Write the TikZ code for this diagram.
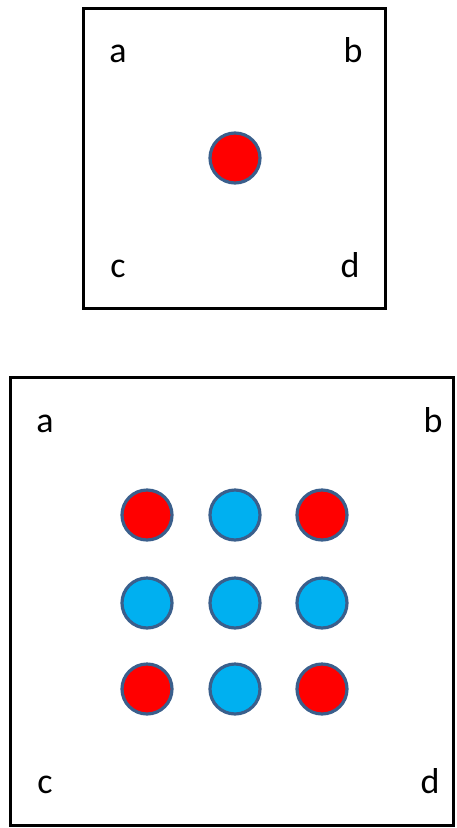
\documentclass[tikz,border=0pt]{standalone}
\usepackage{fontspec}
\setmainfont{Carlito}
\definecolor{dotred}{HTML}{FF0000}
\definecolor{dotblue}{HTML}{00B0F0}
\definecolor{dotedge}{HTML}{3A5F8C}
\tikzset{
  frame/.style={draw=black, line width=3pt},
  lbl/.style={font=\fontsize{36}{40}\selectfont, inner sep=0pt, anchor=base},
  dot/.style={circle, draw=dotedge, line width=3.2pt, minimum size=50pt, inner sep=0pt},
  reddot/.style={dot, fill=dotred},
  bluedot/.style={dot, fill=dotblue}
}
\begin{document}
\begin{tikzpicture}[x=1pt,y=-1pt]
\useasboundingbox (0,0) rectangle (456,828);
% top box
\node[frame, minimum width=302pt, minimum height=300pt, inner sep=0pt] (top) at (234,158) {};
\node[lbl] (ta) at (118,62) {a};
\node[lbl] (tb) at (353,62) {b};
\node[lbl] (tc) at (118,277) {c};
\node[lbl] (td) at (350,277) {d};
\node[reddot] (tcenter) at (235,158) {};
% bottom box
\node[frame, minimum width=443pt, minimum height=448pt, inner sep=0pt] (bot) at (231.5,601.5) {};
\node[lbl] (ba) at (45,432) {a};
\node[lbl] (bb) at (433,432) {b};
\node[lbl] (bc) at (45,793) {c};
\node[lbl] (bd) at (430,793) {d};
\node[reddot]  (d11) at (147,515) {};
\node[bluedot] (d12) at (235,515) {};
\node[reddot]  (d13) at (322,515) {};
\node[bluedot] (d21) at (147,603) {};
\node[bluedot] (d22) at (235,603) {};
\node[bluedot] (d23) at (322,603) {};
\node[reddot]  (d31) at (147,689) {};
\node[bluedot] (d32) at (235,689) {};
\node[reddot]  (d33) at (322,689) {};
\end{tikzpicture}
\end{document}
